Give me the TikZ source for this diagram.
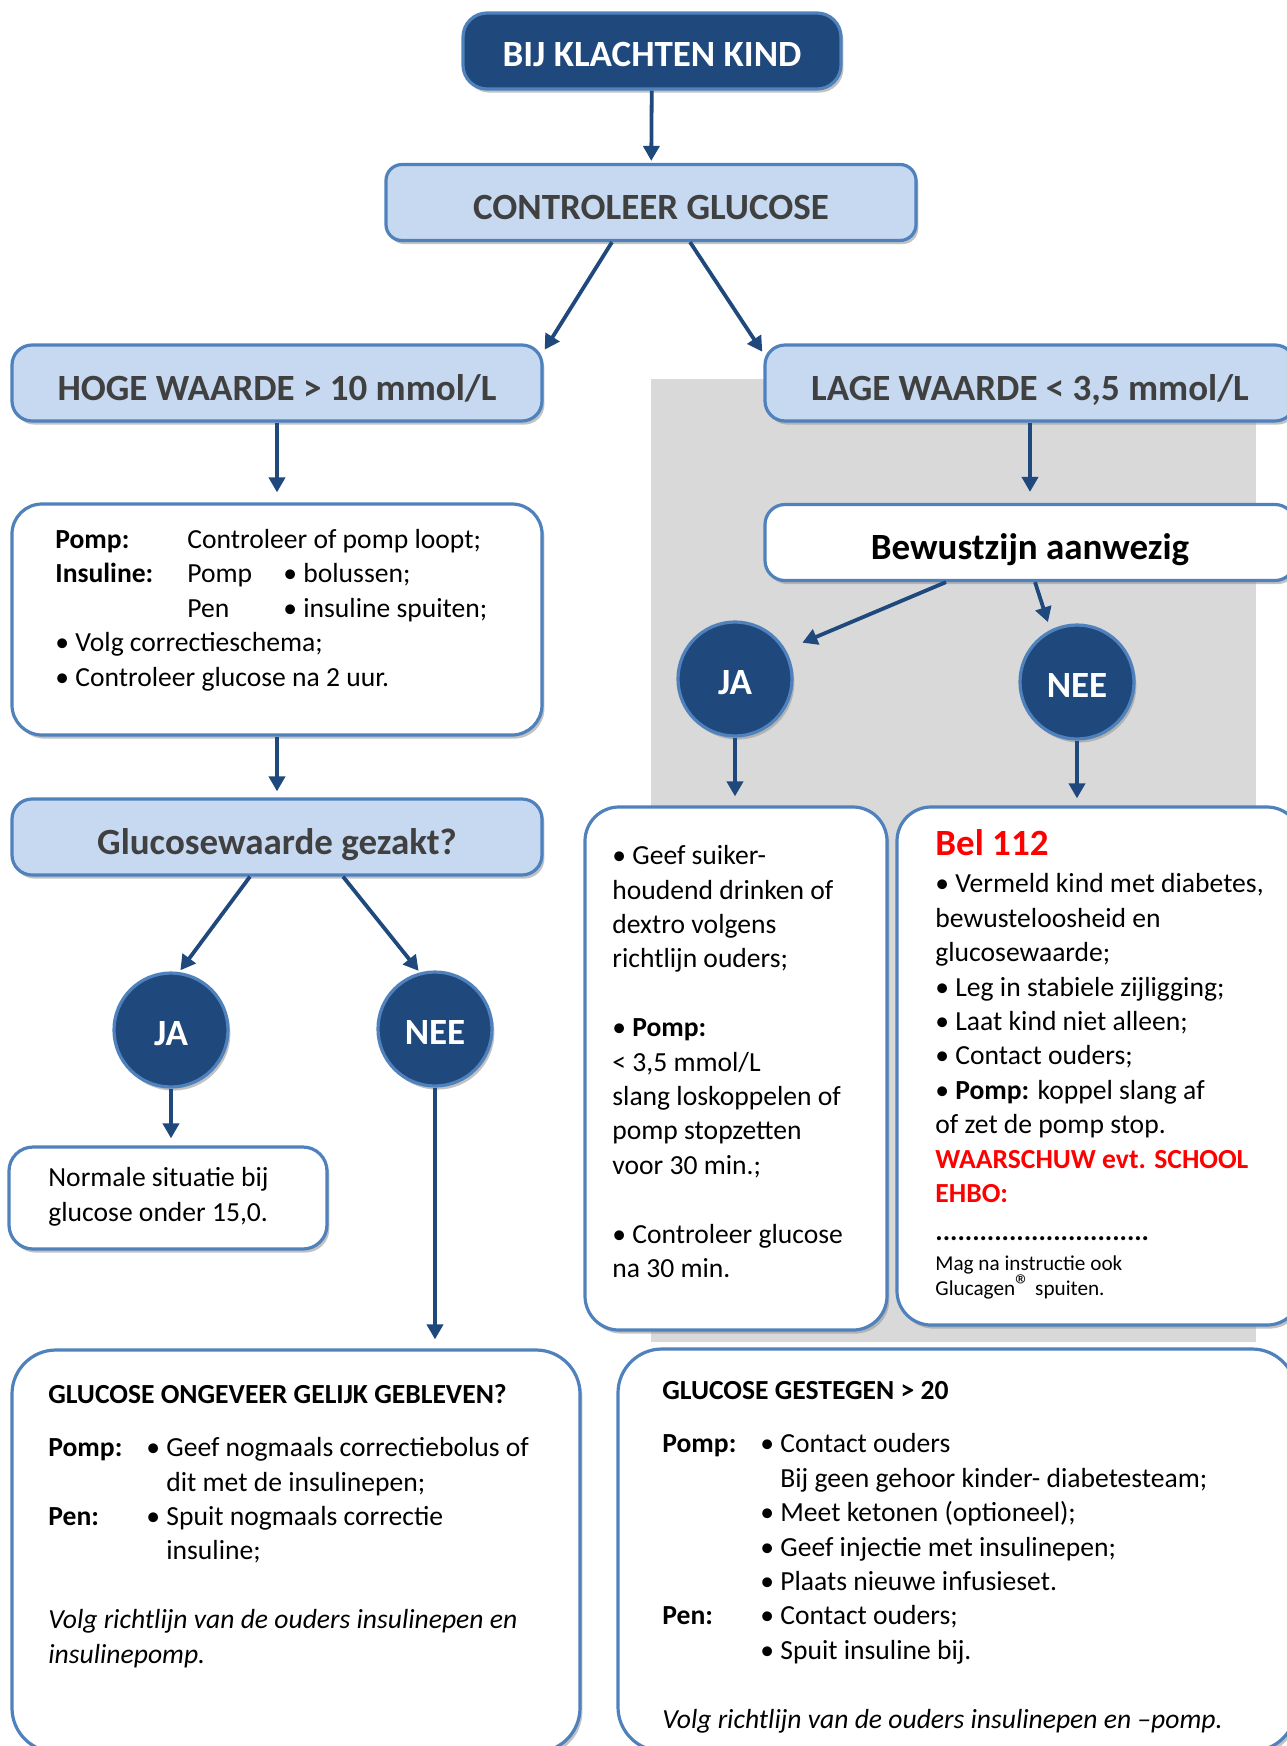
\documentclass[tikz,border=0pt]{standalone}
\usepackage{fontspec}
\setmainfont{Carlito}
\usepackage{xcolor}
\usepackage{tikz}
\definecolor{navy}{RGB}{31,73,125}
\definecolor{edgeblue}{RGB}{79,129,189}
\definecolor{paleblue}{RGB}{198,217,241}
\definecolor{headgray}{RGB}{64,64,64}
\definecolor{panelgray}{RGB}{217,217,217}
\definecolor{alarm}{RGB}{255,0,0}
\usetikzlibrary{arrows.meta,shadows}

\begin{document}
\begin{tikzpicture}[x=0.5pt, y=-0.5pt,
    arrow/.style={draw=navy, line width=1.9pt, -{Triangle[width=8pt,length=7.5pt]}, shorten >=1pt},
    shade/.style={drop shadow={shadow xshift=1.2pt, shadow yshift=-1.8pt, fill=black!40, opacity=0.6}},
    headbox/.style={shade, draw=edgeblue, line width=1.6pt, fill=paleblue, rounded corners=10pt,
        text=headgray, minimum width=265pt, minimum height=38pt, text height=17pt, text depth=0pt,
        font=\fontsize{18.5}{22}\selectfont\bfseries},
    titlebox/.style={headbox, fill=navy, text=white, rounded corners=12pt, text height=15pt},
    infobox/.style={shade, draw=edgeblue, line width=1.6pt, fill=white, rounded corners=15pt},
    answer/.style={shade, circle, draw=edgeblue, line width=1.6pt, fill=navy, text=white,
        minimum size=57pt, inner sep=0pt, text height=15pt, text depth=0pt,
        font=\fontsize{18.5}{22}\selectfont\bfseries},
    body/.style={align=left, inner sep=0pt, anchor=base west, font=\fontsize{13.8}{17.2}\selectfont},
  ]
    \useasboundingbox (0,0) rectangle (1286,1746);

    % grey panel behind the low branch
    \fill[panelgray] (651,379) rectangle (1256,1342);

    % top of the chart
    \node[titlebox, minimum width=189pt] (start) at (652,51) {BIJ KLACHTEN KIND};
    \node[headbox, rounded corners=8pt] (check) at (651,202.5) {CONTROLEER GLUCOSE};
    \node[headbox] (high) at (277,383) {HOGE WAARDE > 10 mmol/L};
    \node[headbox] (low) at (1030,383) {LAGE WAARDE < 3,5 mmol/L};

    % high branch (text nodes sit on the baseline of their last line)
    \node[infobox, minimum width=265pt, minimum height=115.5pt] (highcare) at (277,619.5) {};
    \node[body] (highcaretext) at (55,686) {%
      \makebox[66pt][l]{\textbf{Pomp:}}Controleer of pomp loopt;\\
      \makebox[66pt][l]{\textbf{Insuline:}}\makebox[48pt][l]{Pomp}• bolussen;\\
      \makebox[66pt][l]{}\makebox[48pt][l]{Pen}• insuline spuiten;\\
      • Volg correctieschema;\\
      • Controleer glucose na 2 uur.};
    \node[headbox] (drop) at (277,837) {Glucosewaarde gezakt?};
    \node[answer] (yes1) at (171,1030) {JA};
    \node[answer] (no1) at (435,1029) {NEE};
    \node[infobox, rounded corners=12pt, minimum width=159pt, minimum height=51pt] (normal) at (168,1198) {};
    \node[body] (normaltext) at (48,1221) {Normale situatie bij\\glucose onder 15,0.};
    \node[infobox, rounded corners=22pt, minimum width=284pt, minimum height=201pt] (same) at (296,1551) {};
    \node[body] (sametext) at (48,1663) {%
      \textbf{GLUCOSE ONGEVEER GELIJK GEBLEVEN?}\\[9.3pt]
      \makebox[49pt][l]{\textbf{Pomp:}}• Geef nogmaals correctiebolus of\\
      \makebox[49pt][l]{}\phantom{• }dit met de insulinepen;\\
      \makebox[49pt][l]{\textbf{Pen:}}• Spuit nogmaals correctie\\
      \makebox[49pt][l]{}\phantom{• }insuline;\\[17.2pt]
      \textit{Volg richtlijn van de ouders insulinepen en}\\
      \textit{insulinepomp.}};

    % low branch
    \node[headbox, fill=white, text=black] (aware) at (1030,542.5) {Bewustzijn aanwezig};
    \node[answer] (yes2) at (735,679) {JA};
    \node[answer] (no2) at (1077,682) {NEE};
    \node[infobox, rounded corners=17pt, minimum width=151pt, minimum height=261.5pt] (sugar) at (736,1068.5) {};
    \node[body] (sugartext) at (612,1277.5) {%
      • Geef suiker-\\
      houdend drinken of\\
      dextro volgens\\
      richtlijn ouders;\\[17.2pt]
      • \textbf{Pomp:}\\
      < 3,5 mmol/L\\
      slang loskoppelen of\\
      pomp stopzetten\\
      voor 30 min.;\\[17.2pt]
      • Controleer glucose\\
      na 30 min.};
    \node[infobox, rounded corners=17pt, minimum width=202pt, minimum height=259pt] (call) at (1099,1066) {};
    \node[body] (calltext) at (935,1240) {%
      {\fontsize{18.5}{22}\selectfont\bfseries\color{alarm}Bel 112}\\[1.3pt]
      • Vermeld kind met diabetes,\\
      bewusteloosheid en\\
      glucosewaarde;\\
      • Leg in stabiele zijligging;\\
      • Laat kind niet alleen;\\
      • Contact ouders;\\
      • \textbf{Pomp:} koppel slang af\\
      of zet de pomp stop.\\
      \textcolor{alarm}{\textbf{WAARSCHUW evt. SCHOOL}}\\
      \textcolor{alarm}{\textbf{EHBO:}}\\[1.6pt]
      \textbf{.............................}};
    \node[body, font=\fontsize{10.6}{12.5}\selectfont] (callnote) at (935,1295) {%
      Mag na instructie ook\\
      Glucagen{\fontsize{15}{15}\selectfont ®} spuiten.};
    \node[infobox, rounded corners=22pt, minimum width=339pt, minimum height=201pt] (rise) at (957,1550) {};
    \node[body] (risetext) at (662,1728) {%
      \textbf{GLUCOSE GESTEGEN > 20}\\[9.5pt]
      \makebox[49pt][l]{\textbf{Pomp:}}• Contact ouders\\
      \makebox[49pt][l]{}\phantom{• }Bij geen gehoor kinder- diabetesteam;\\
      \makebox[49pt][l]{}• Meet ketonen (optioneel);\\
      \makebox[49pt][l]{}• Geef injectie met insulinepen;\\
      \makebox[49pt][l]{}• Plaats nieuwe infusieset.\\
      \makebox[49pt][l]{\textbf{Pen:}}• Contact ouders;\\
      \makebox[49pt][l]{}• Spuit insuline bij.\\[17.2pt]
      \textit{Volg richtlijn van de ouders insulinepen en –pomp.}};

    % connectors
    \draw[arrow] (start) -- (check);
    \draw[arrow] ([xshift=-19.5pt]check.south) -- ([yshift=-4pt]high.north east);
    \draw[arrow] ([xshift=19.5pt]check.south) -- ([yshift=-5pt]low.north west);
    \draw[arrow, shorten >=5pt] (high) -- (highcare);
    \draw[arrow, shorten >=3pt] (highcare) -- (drop);
    \draw[arrow] ([xshift=-13.5pt]drop.south) -- (yes1.82);
    \draw[arrow] ([xshift=33pt]drop.south) -- (no1.105);
    \draw[arrow, shorten >=3.5pt] (yes1) -- (yes1 |- normal.north);
    \draw[arrow, shorten >=4.5pt] (no1) -- (no1 |- same.north);
    \draw[arrow, shorten >=5.5pt] (low) -- (aware);
    \draw[arrow, shorten >=9pt] ([xshift=-42pt]aware.south) -- (yes2.30);
    \draw[arrow, shorten >=4pt] ([xshift=2.5pt]aware.south) -- (no2.117);
    \draw[arrow, shorten >=4.5pt] (yes2) -- (yes2 |- sugar.north);
    \draw[arrow, shorten >=3.5pt] (no2) -- (no2 |- call.north);
\end{tikzpicture}
\end{document}
